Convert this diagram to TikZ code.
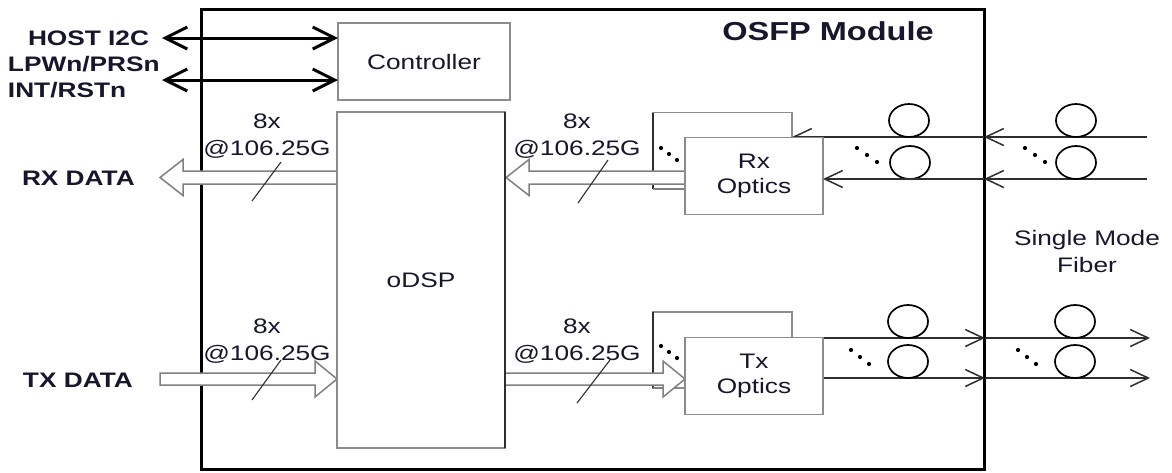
\documentclass[tikz,border=0pt]{standalone}
\usepackage{fontspec}
\setmainfont[FakeStretch=1.25]{Liberation Sans}
\usetikzlibrary{arrows.meta}
\definecolor{boxgray}{HTML}{8C8C8C}
\definecolor{busgray}{HTML}{808080}
\definecolor{fibergray}{HTML}{2E2E2E}
\definecolor{txt}{HTML}{16162C}
\begin{document}
\begin{tikzpicture}[x=1pt,y=-1pt,
  every node/.style={text=txt, inner sep=0pt, outer sep=0pt},
  box/.style={draw=boxgray, line width=1.8pt},
  optbox/.style={draw=boxgray, fill=white, line width=1.8pt, minimum width=138pt, minimum height=77pt, align=center, font=\fontsize{21}{25}\selectfont},
  backbox/.style={draw=boxgray, line width=1.6pt, minimum width=139pt, minimum height=76pt},
  lbl/.style={font=\fontsize{21}{27}\selectfont, align=center},
  blbl/.style={font=\fontsize{21}{26}\selectfont\bfseries, anchor=west},
  hostarrow/.style={draw=black, line width=3pt, {Straight Barb[length=22pt,width=22pt]}-{Straight Barb[length=22pt,width=22pt]}},
  fiber/.style={draw=fibergray, line width=1.5pt, -{Straight Barb[length=18pt,width=17pt]}},
  bus/.style={draw=busgray, fill=white, line width=1.5pt, line join=miter},
  slash/.style={draw=fibergray, line width=1.1pt},
  ring/.style={draw=black, line width=1.7pt},
]
\useasboundingbox (0,0) rectangle (1172,472);

% module
\node[draw=black, line width=3pt, minimum width=783pt, minimum height=460pt] (mod) at (592.5,239) {};
\node[font=\fontsize{26}{30}\selectfont\bfseries] (title) at (828,31) {OSFP Module};

% back boxes
\node[backbox] (rxb) at (722.5,150.5) {};
\node[backbox] (txb) at (722.5,350) {};
\draw[fibergray, line width=1.6pt] (rxb.north west) -- (rxb.south west);
\draw[fibergray, line width=1.6pt] (txb.north west) -- (txb.south west);
\foreach \p in {(661,148),(669,154),(677,160),(661,346),(669,352),(677,358)}
  \fill[black] \p circle (2.1pt);

% fibers Rx
\coordinate (rxuO) at (1147,137);
\coordinate (rxuM) at (984,137);
\coordinate (rxlO) at (1147,179);
\coordinate (rxlM) at (984,179);
\draw[fiber] (rxuO) -- (rxuM);
\draw[fiber] (rxuM) -- (rxb.east |- rxuM);
\draw[fiber] (rxlO) -- (rxlM);
% fibers Tx
\coordinate (txuO) at (1150,338);
\coordinate (txuM) at (985,338);
\coordinate (txlO) at (1150,378);
\coordinate (txlM) at (985,378);
\coordinate (txuS) at (823,338);
\coordinate (txlS) at (823,378);
\draw[fiber] (txuS) -- (txuM);
\draw[fiber] (txuM) -- (txuO);
\draw[fiber] (txlS) -- (txlM);
\draw[fiber] (txlM) -- (txlO);

% rings
\foreach \cx/\cy in {909/120.5,910/162.5,1076/120.5,1076/162.5,908/321.5,908/361.5,1075/321.5,1075/361.5}
  \draw[ring] (\cx,\cy) ellipse [x radius=20, y radius=16.5];
\foreach \p in {(857,148),(867,155),(877,162),(1025,148),(1035,155),(1045,162),(851,350),(860,357),(869,364),(1018,350),(1027,357),(1036,364)}
  \fill[black] \p circle (2.1pt);

% buses
\filldraw[bus] (337,171) -- (183,171) -- (183,159.5) -- (160,177.5) -- (183,195.5) -- (183,184) -- (337,184);
\filldraw[bus] (685,171) -- (529,171) -- (529,159.5) -- (506,177.5) -- (529,195.5) -- (529,184) -- (685,184);
\draw[busgray, line width=1.5pt] (653,189) -- (685,189);
\filldraw[bus] (160,373) -- (315,373) -- (315,361) -- (337,379) -- (315,397) -- (315,385) -- (160,385) -- cycle;
\draw[busgray, line width=1.5pt] (653,388) -- (663,388);
\filldraw[bus] (506,373) -- (663,373) -- (663,361) -- (685,379) -- (663,397) -- (663,385) -- (506,385);

% front optics boxes
\node[optbox] (rxo) at (754,176) {Rx\\Optics};
\node[optbox] (txo) at (754,376) {Tx\\Optics};
\draw[fiber] (rxlM) -- (rxo.east |- rxlM);

% controller and DSP
\node[box, minimum width=172pt, minimum height=77pt, font=\fontsize{21}{25}\selectfont] (ctrl) at (424,61.5) {Controller};
\node[box, minimum width=168pt, minimum height=336pt, font=\fontsize{21}{25}\selectfont] (dsp) at (421,280) {oDSP};
\draw[fibergray, line width=1.2pt] (dsp.north east) -- (dsp.south east);

% host arrows
\coordinate (h1) at (162,38);
\coordinate (h2) at (162,80);
\draw[hostarrow] (h1) -- (h1 -| ctrl.west);
\draw[hostarrow] (h2) -- (h2 -| ctrl.west);

% left labels
\node[blbl] (lhost) at (28,38) {HOST I2C};
\node[blbl] (llpw) at (8,64) {LPWn/PRSn};
\node[blbl] (lint) at (8,90) {INT/RSTn};
\node[blbl] (lrx) at (22,178) {RX DATA};
\node[blbl] (ltx) at (23,380) {TX DATA};

% rate labels
\node[lbl] (r1) at (267,136) {8x\\@106.25G};
\node[lbl] (r2) at (577,136) {8x\\@106.25G};
\node[lbl] (r3) at (267,341) {8x\\@106.25G};
\node[lbl] (r4) at (577,341) {8x\\@106.25G};
\draw[slash] (252,201) -- (281,162);
\draw[slash] (578,203) -- (608,160);
\draw[slash] (252,400) -- (281,360);
\draw[slash] (577,403) -- (610,360);

% fiber label
\node[lbl] (smf) at (1087,251) {Single Mode\\Fiber};
\end{tikzpicture}
\end{document}
